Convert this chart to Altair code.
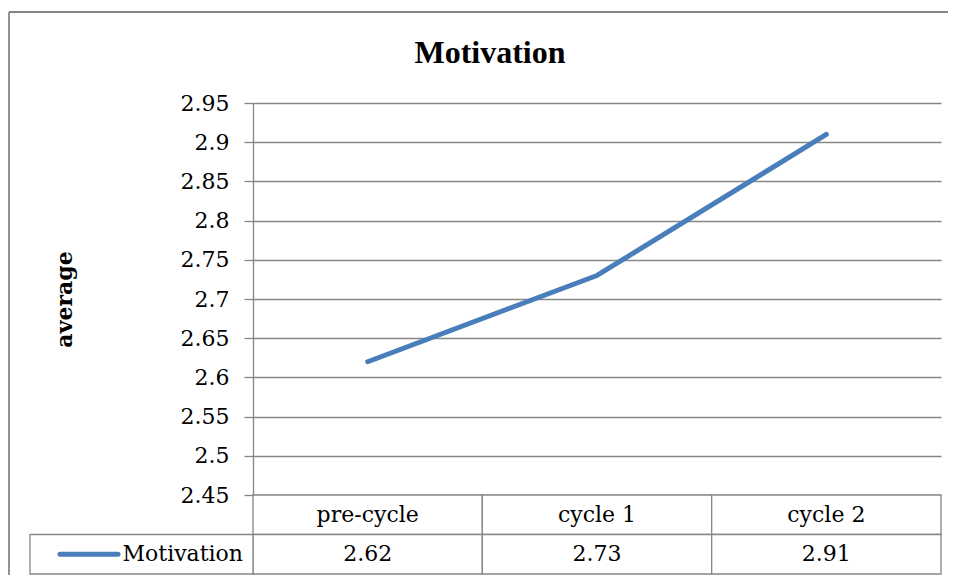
import altair as alt
import pandas as pd

categories = ["pre-cycle", "cycle 1", "cycle 2"]
values = [2.62, 2.73, 2.91]
series_name = "Motivation"
y_ticks = [2.45, 2.5, 2.55, 2.6, 2.65, 2.7, 2.75, 2.8, 2.85, 2.9, 2.95]
chart_title = "Motivation"
y_title = "average"

LINE = "#4A7EBB"
GRID = "#868686"
SERIF = "DejaVu Serif"

W, H = 688, 392

df = pd.DataFrame({"category": categories, "value": values})
one = pd.DataFrame({"k": [0]})

line = alt.Chart(df).mark_line(color=LINE, strokeWidth=5, strokeCap="round", strokeJoin="round").encode(
    x=alt.X("category:N", sort=categories,
            scale=alt.Scale(type="point", domain=categories, padding=0.5), axis=None),
    y=alt.Y("value:Q",
            scale=alt.Scale(domain=[2.45, 2.95], nice=False, zero=False),
            axis=alt.Axis(values=y_ticks, format=".2~f", title=y_title,
                          grid=True, gridColor=GRID, gridWidth=1.3,
                          domainColor=GRID, domainWidth=1.3,
                          tickColor=GRID, tickWidth=1.3, tickSize=9,
                          labelPadding=15, labelFont=SERIF, labelFontSize=22,
                          labelColor="black",
                          titleFont=SERIF, titleFontSize=22, titleFontWeight="bold",
                          titleColor="black", titlePadding=104)),
)

title_text = alt.Chart(one).mark_text(
    text=chart_title, font="Liberation Serif", fontSize=32, fontWeight="bold",
    align="center", baseline="alphabetic", color="black"
).encode(x=alt.value(237), y=alt.value(-40))

border_top = alt.Chart(one).mark_rule(color=GRID, strokeWidth=1.8).encode(
    x=alt.value(-244), x2=alt.value(695), y=alt.value(-91))
border_left_top = alt.Chart(one).mark_rule(color=GRID, strokeWidth=1.8).encode(
    x=alt.value(-244), y=alt.value(-91), y2=alt.value(H))

top = alt.layer(border_top, border_left_top, line, title_text).properties(width=W, height=H)

# data table
rows = []
for c in categories:
    rows.append({"row": "header", "category": c, "label": c})
for c, v in zip(categories, values):
    rows.append({"row": "values", "category": c, "label": f"{v:.2f}"})
tdf = pd.DataFrame(rows)

xs = alt.X("category:N", sort=categories,
           scale=alt.Scale(type="band", domain=categories, paddingInner=0, paddingOuter=0), axis=None)
ys = alt.Y("row:N", scale=alt.Scale(type="band", domain=["header", "values"], paddingInner=0, paddingOuter=0),
           axis=None)

cells = alt.Chart(tdf).mark_rect(fill="white", stroke=GRID, strokeWidth=1.3).encode(x=xs, y=ys)
cell_text = alt.Chart(tdf).mark_text(font=SERIF, fontSize=22, color="black", align="center",
                                     baseline="middle").encode(x=xs, y=ys, text="label:N")

leg = pd.DataFrame({"row": ["values"], "label": [series_name]})
leg_cell = alt.Chart(leg).mark_rect(fill="white", stroke=GRID, strokeWidth=1.3).encode(
    x=alt.value(-223), x2=alt.value(0), y=ys)
leg_swatch = alt.Chart(leg).mark_rule(color=LINE, strokeWidth=5, strokeCap="round").encode(
    x=alt.value(-193), x2=alt.value(-135), y=ys)
leg_text = alt.Chart(leg).mark_text(font=SERIF, fontSize=22, color="black", align="right",
                                    baseline="middle").encode(x=alt.value(-10), y=ys, text="label:N")
border_left_bottom = alt.Chart(one).mark_rule(color=GRID, strokeWidth=1.8).encode(
    x=alt.value(-244), y=alt.value(0), y2=alt.value(80))

bottom = alt.layer(cells, cell_text, leg_cell, leg_swatch, leg_text, border_left_bottom).properties(
    width=W, height=79)

chart = alt.vconcat(top, bottom, spacing=0, bounds="flush").properties(
    padding={"left": 0, "top": 3, "right": 0, "bottom": 0}
).configure_view(strokeWidth=0)

chart.save("out.html", embed_options={"renderer": "svg", "actions": False})
